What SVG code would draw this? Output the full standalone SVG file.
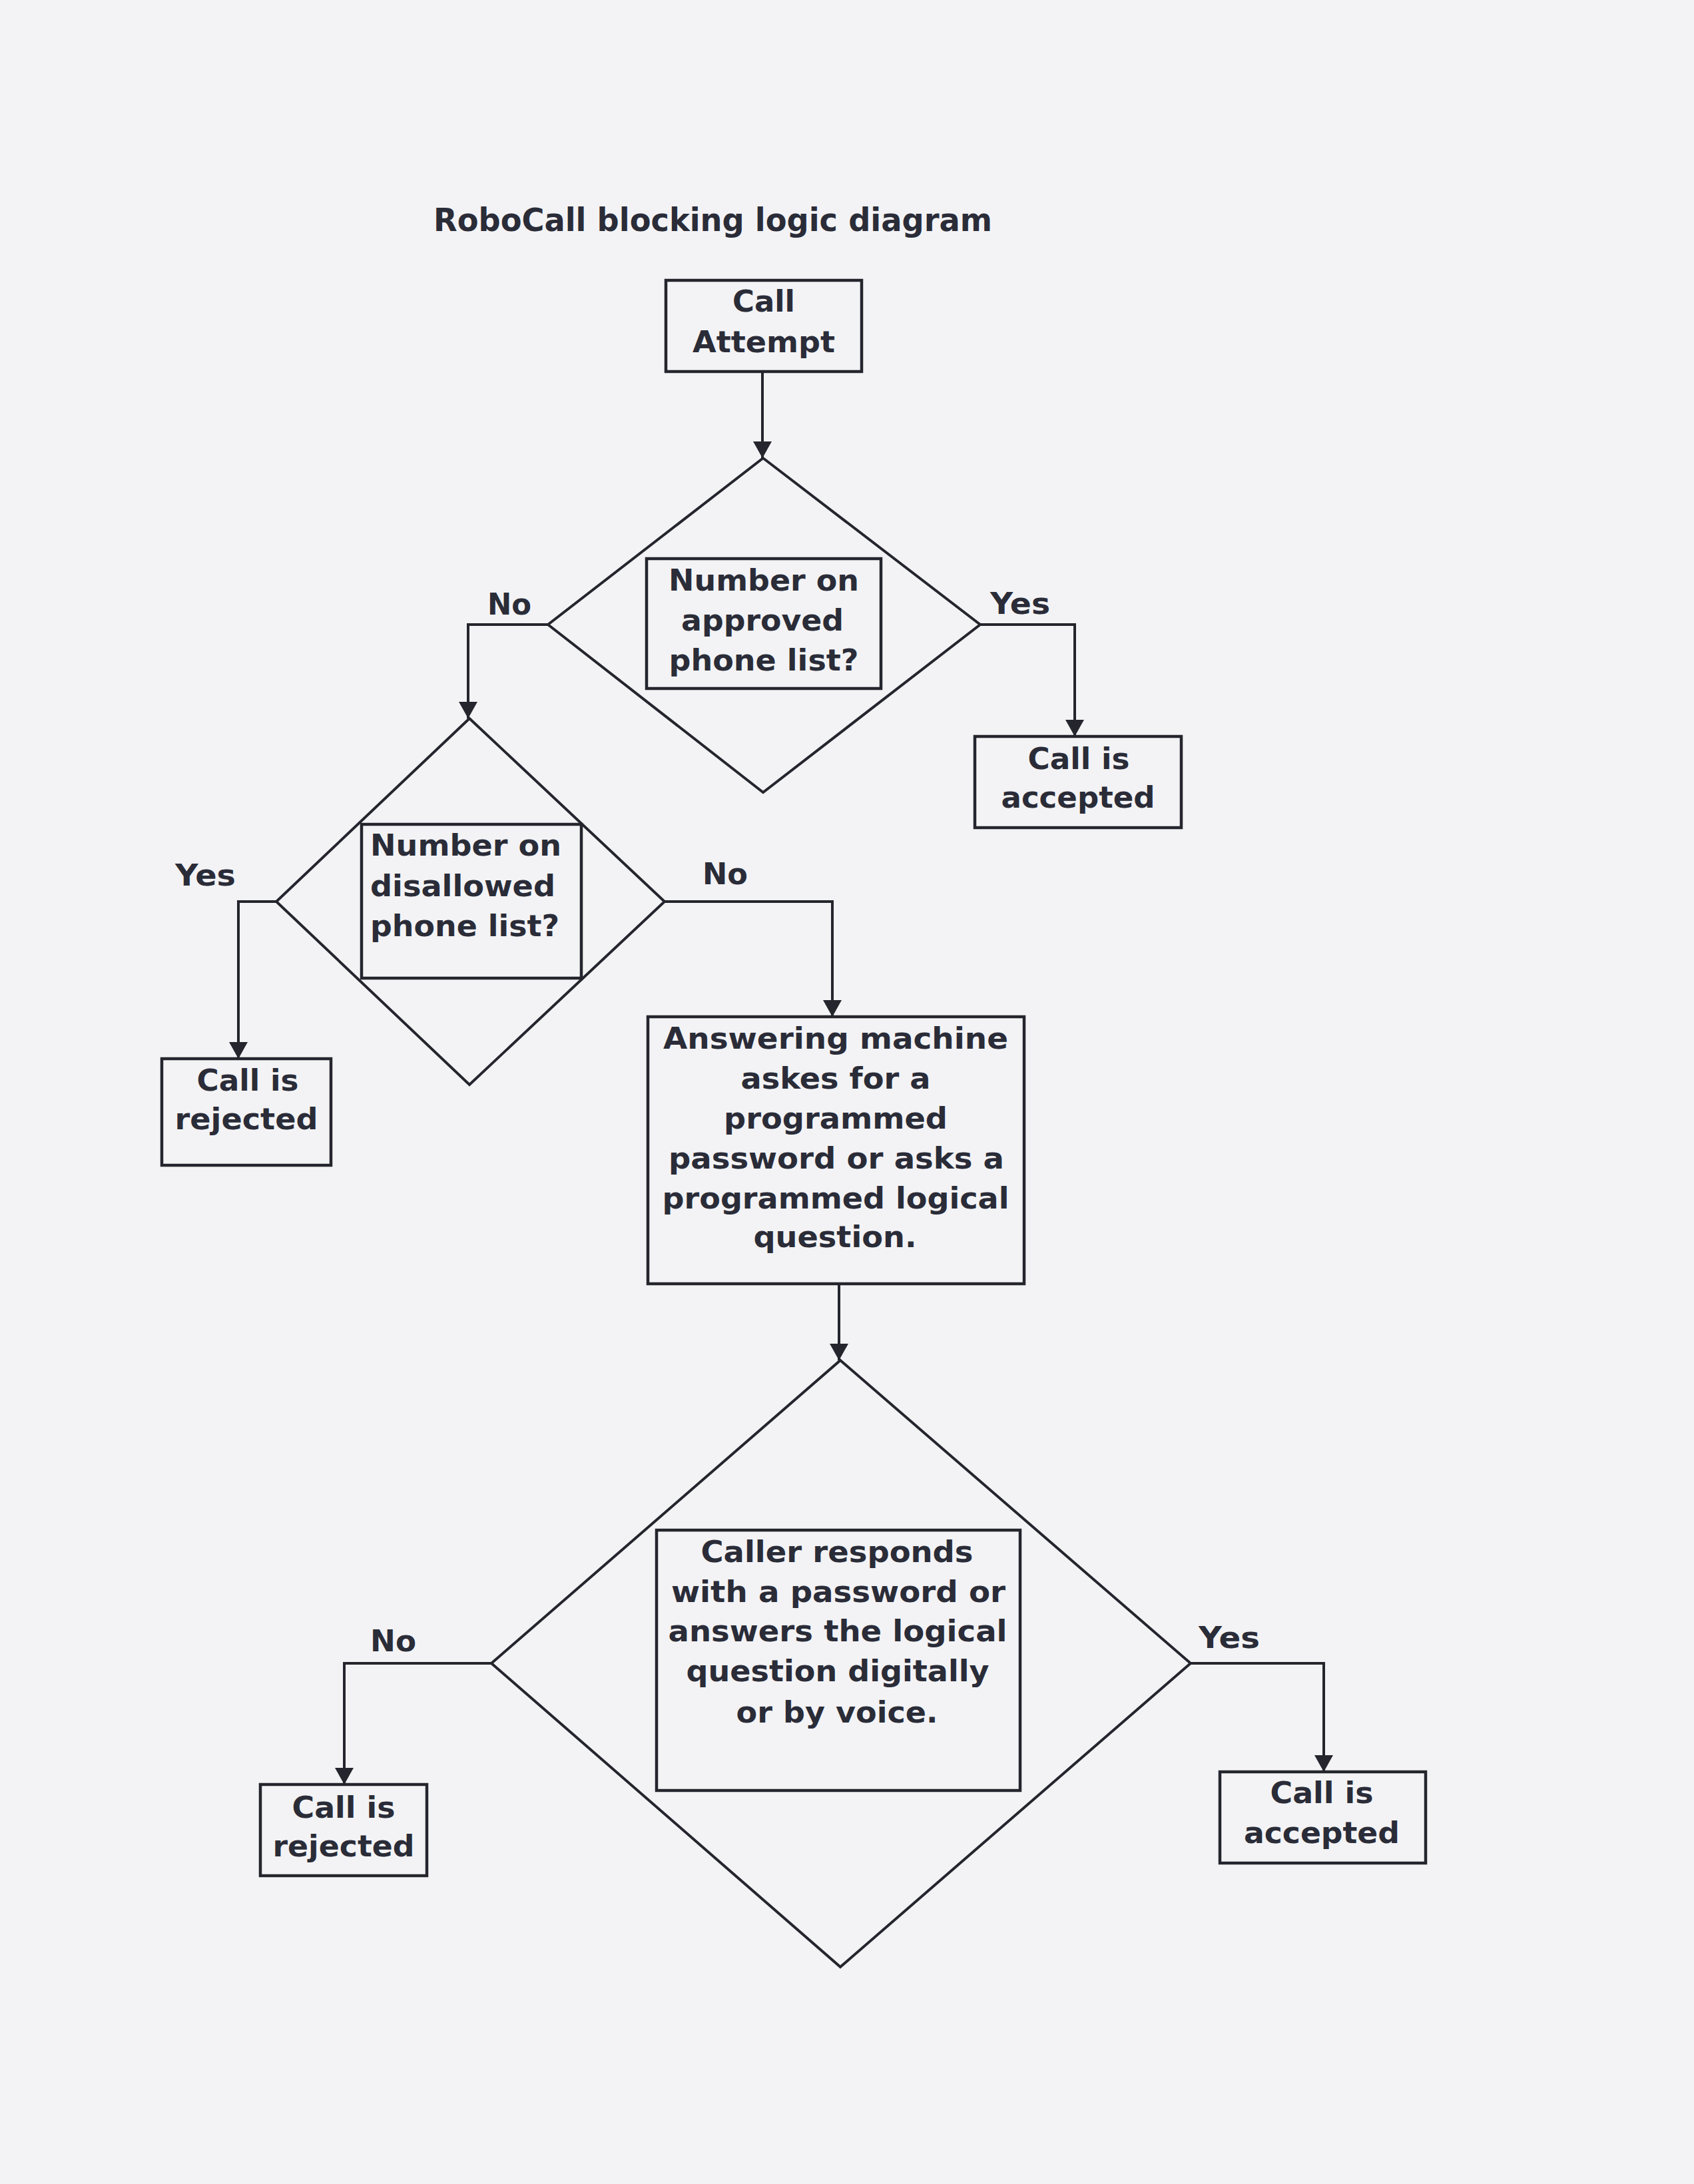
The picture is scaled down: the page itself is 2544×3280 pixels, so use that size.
<svg xmlns="http://www.w3.org/2000/svg" width="2544" height="3280" viewBox="0 0 2544 3280">
  <style>
    .bg { fill: #f3f3f5; }
    .box { fill: none; stroke: #24252d; stroke-width: 4.5; }
    .dia { fill: none; stroke: #24252d; stroke-width: 4; stroke-linejoin: miter; }
    .conn { fill: none; stroke: #24252d; stroke-width: 4; }
    text { font-family: "DejaVu Sans", "Verdana", sans-serif; font-weight: bold; fill: #2a2c38; font-size: 45px; }
    .title { font-size: 48px; }
    .c { text-anchor: middle; }
  </style>
  <defs>
    <marker id="arrow" markerUnits="userSpaceOnUse" viewBox="0 0 25 28" refX="25" refY="14" markerWidth="25" markerHeight="28" orient="auto">
      <path d="M0,0 L25,14 L0,28 z" fill="#24252d"/>
    </marker>
  </defs>
  <rect class="bg" x="0" y="0" width="2544" height="3280"/>

  <text id="title" class="title" x="651" y="347" textLength="839" lengthAdjust="spacingAndGlyphs">RoboCall blocking logic diagram</text>

  <g id="connectors">
    <path class="conn" d="M1145,558 L1145,688" marker-end="url(#arrow)"/>
    <path class="conn" d="M823,938 L703,938 L703,1079" marker-end="url(#arrow)"/>
    <path class="conn" d="M1472,938 L1614,938 L1614,1106" marker-end="url(#arrow)"/>
    <path class="conn" d="M415,1354 L358,1354 L358,1590" marker-end="url(#arrow)"/>
    <path class="conn" d="M998,1354 L1250,1354 L1250,1527" marker-end="url(#arrow)"/>
    <path class="conn" d="M1260,1928 L1260,2043" marker-end="url(#arrow)"/>
    <path class="conn" d="M738,2498 L517,2498 L517,2680" marker-end="url(#arrow)"/>
    <path class="conn" d="M1788,2498 L1988,2498 L1988,2661" marker-end="url(#arrow)"/>
    <text x="732" y="923" textLength="66" lengthAdjust="spacingAndGlyphs">No</text>
    <text x="1487" y="922" textLength="90" lengthAdjust="spacingAndGlyphs">Yes</text>
    <text x="263" y="1330" textLength="91" lengthAdjust="spacingAndGlyphs">Yes</text>
    <text x="1055" y="1328" textLength="68" lengthAdjust="spacingAndGlyphs">No</text>
    <text x="556" y="2480" textLength="69" lengthAdjust="spacingAndGlyphs">No</text>
    <text x="1800" y="2475" textLength="92" lengthAdjust="spacingAndGlyphs">Yes</text>
  </g>

  <g id="call-attempt">
    <rect class="box" x="1000" y="421" width="294" height="137"/>
    <text class="c" x="1147" y="468" textLength="94" lengthAdjust="spacingAndGlyphs">Call</text>
    <text class="c" x="1147" y="529" textLength="214" lengthAdjust="spacingAndGlyphs">Attempt</text>
  </g>

  <g id="approved-decision">
    <polygon class="dia" points="1146,688 1472,938 1146,1190 823,938"/>
    <rect class="box" x="971" y="839" width="352" height="195"/>
    <text class="c" x="1147" y="887" textLength="286" lengthAdjust="spacingAndGlyphs">Number on</text>
    <text class="c" x="1145" y="947" textLength="244" lengthAdjust="spacingAndGlyphs">approved</text>
    <text class="c" x="1147" y="1007" textLength="285" lengthAdjust="spacingAndGlyphs">phone list?</text>
  </g>

  <g id="accepted-1">
    <rect class="box" x="1464" y="1106" width="310" height="137"/>
    <text class="c" x="1620" y="1155" textLength="153" lengthAdjust="spacingAndGlyphs">Call is</text>
    <text class="c" x="1619" y="1213" textLength="231" lengthAdjust="spacingAndGlyphs">accepted</text>
  </g>

  <g id="disallowed-decision">
    <polygon class="dia" points="705,1079 998,1354 705,1629 415,1354"/>
    <rect class="box" x="543" y="1238" width="330" height="231"/>
    <text x="556" y="1285" textLength="287" lengthAdjust="spacingAndGlyphs">Number on</text>
    <text x="556" y="1346" textLength="278" lengthAdjust="spacingAndGlyphs">disallowed</text>
    <text x="556" y="1406" textLength="284" lengthAdjust="spacingAndGlyphs">phone list?</text>
  </g>

  <g id="rejected-1">
    <rect class="box" x="243" y="1590" width="254" height="160"/>
    <text class="c" x="372" y="1638" textLength="153" lengthAdjust="spacingAndGlyphs">Call is</text>
    <text class="c" x="370" y="1696" textLength="215" lengthAdjust="spacingAndGlyphs">rejected</text>
  </g>

  <g id="answering-machine">
    <rect class="box" x="973" y="1527" width="565" height="401"/>
    <text class="c" x="1255" y="1575" textLength="518" lengthAdjust="spacingAndGlyphs">Answering machine</text>
    <text class="c" x="1255" y="1635" textLength="285" lengthAdjust="spacingAndGlyphs">askes for a</text>
    <text class="c" x="1255" y="1695" textLength="336" lengthAdjust="spacingAndGlyphs">programmed</text>
    <text class="c" x="1256" y="1755" textLength="504" lengthAdjust="spacingAndGlyphs">password or asks a</text>
    <text class="c" x="1255" y="1815" textLength="521" lengthAdjust="spacingAndGlyphs">programmed logical</text>
    <text class="c" x="1254" y="1873" textLength="245" lengthAdjust="spacingAndGlyphs">question.</text>
  </g>

  <g id="response-decision">
    <polygon class="dia" points="1262,2043 1788,2498 1262,2954 738,2498"/>
    <rect class="box" x="986" y="2298" width="546" height="391"/>
    <text class="c" x="1257" y="2346" textLength="409" lengthAdjust="spacingAndGlyphs">Caller responds</text>
    <text class="c" x="1259" y="2406" textLength="502" lengthAdjust="spacingAndGlyphs">with a password or</text>
    <text class="c" x="1258" y="2465" textLength="509" lengthAdjust="spacingAndGlyphs">answers the logical</text>
    <text class="c" x="1258" y="2525" textLength="455" lengthAdjust="spacingAndGlyphs">question digitally</text>
    <text class="c" x="1257" y="2587" textLength="303" lengthAdjust="spacingAndGlyphs">or by voice.</text>
  </g>

  <g id="rejected-2">
    <rect class="box" x="391" y="2680" width="250" height="137"/>
    <text class="c" x="516" y="2730" textLength="155" lengthAdjust="spacingAndGlyphs">Call is</text>
    <text class="c" x="516" y="2788" textLength="213" lengthAdjust="spacingAndGlyphs">rejected</text>
  </g>

  <g id="accepted-2">
    <rect class="box" x="1832" y="2661" width="309" height="137"/>
    <text class="c" x="1985" y="2708" textLength="155" lengthAdjust="spacingAndGlyphs">Call is</text>
    <text class="c" x="1985" y="2768" textLength="234" lengthAdjust="spacingAndGlyphs">accepted</text>
  </g>
</svg>
